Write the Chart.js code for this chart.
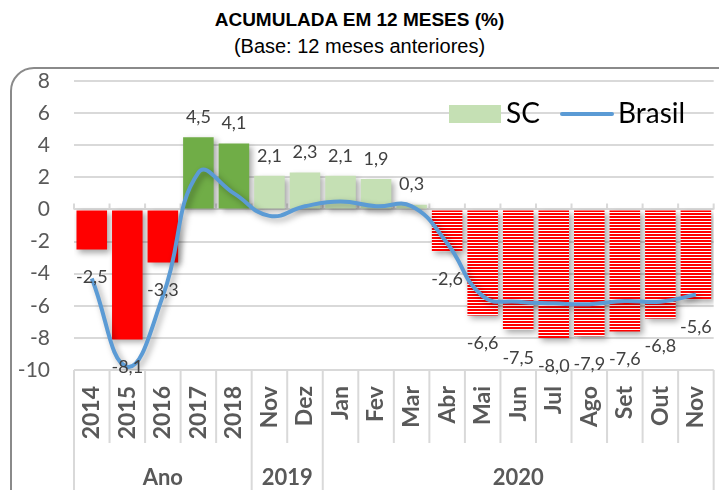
<!DOCTYPE html>
<html>
<head>
<meta charset="utf-8">
<script src="https://cdn.jsdelivr.net/npm/chart.js@4.4.0/dist/chart.umd.min.js"></script>
<style>
    html, body { margin: 0; padding: 0; background: #fff; overflow: hidden; }
    #page { position: relative; width: 719px; height: 490px; overflow: hidden; }
    .title { position: absolute; left: 0; width: 719px; text-align: center; color: #000; }
    #t1 { top: 9px; font: bold 19px "Liberation Sans Narrow", "Arial Narrow", sans-serif; }
    #t2 { top: 35px; font: 20px "Liberation Sans Narrow", "Arial Narrow", sans-serif; }
    #frame { position: absolute; left: 10px; top: 67px; width: 740px; height: 450px;
             border: 2px solid #8a8a8a; border-radius: 24px; box-sizing: border-box; }
    #chart { position: absolute; left: 0; top: 0; z-index: 1; }
    .legend { position: absolute; z-index: 2; font: 28px Lato, sans-serif; color: #000; }
</style>
</head>
<body>
<div id="page">
    <div class="title" id="t1">ACUMULADA EM 12 MESES (%)</div>
    <div class="title" id="t2">(Base: 12 meses anteriores)</div>
    <div id="frame"></div>
    <canvas id="chart" width="740" height="490" style="width:740px;height:490px"></canvas>
    <!-- legend -->
    <div class="legend" style="left:449px;top:105px;width:52px;height:18px;background:#c5e0b4"></div>
    <div class="legend" style="left:506px;top:95px;line-height:34px">SC</div>
    <div class="legend" style="left:560px;top:112px;width:54px;height:4px;border-radius:2px;background:#5b9bd5"></div>
    <div class="legend" style="left:618px;top:95px;line-height:34px">Brasil</div>
</div>
<script>
// --- data ---
const categories = ['2014', '2015', '2016', '2017', '2018', 'Nov', 'Dez', 'Jan', 'Fev', 'Mar',
                    'Abr', 'Mai', 'Jun', 'Jul', 'Ago', 'Set', 'Out', 'Nov'];
const groupLabels = ['Ano', '2019', '2020'];
const groupSizes = [5, 2, 11];
const scValues = [-2.5, -8.1, -3.3, 4.5, 4.1, 2.1, 2.3, 2.1, 1.9, 0.3,
                  -2.6, -6.6, -7.5, -8.0, -7.9, -7.6, -6.8, -5.6];
const brasilValues = [-4.3, -9.8, -5.4, 2.3, 1.0, -0.4, 0.2, 0.5, 0.2, 0.2,
                      -2.1, -5.4, -5.75, -5.85, -5.9, -5.7, -5.75, -5.3];
const yMin = -10, yMax = 8, yStep = 2;

const canvas = document.getElementById('chart');
const ctx = canvas.getContext('2d');

// red / white horizontal stripes for the 2020 months from Abr on
const makeStripes = () => {
    const pc = document.createElement('canvas');
    pc.width = 4; pc.height = 3;
    const p = pc.getContext('2d');
    p.fillStyle = '#ffffff'; p.fillRect(0, 0, 4, 3);
    p.fillStyle = '#ff0000'; p.fillRect(0, 0, 4, 2);
    return ctx.createPattern(pc, 'repeat');
};
const stripes = makeStripes();
const barColor = (i) => i < 3 ? '#ff0000' : i < 5 ? '#70ad47' : i < 10 ? '#c5e0b4' : stripes;

const fmt = (v) => v.toFixed(1).replace('.', ',');
const TICK_COLOR = '#595959';
const GRID_COLOR = '#d9d9d9';

// soft drop shadow under bars and line, like the original
const shadowPlugin = {
    id: 'shadow',
    beforeDatasetDraw(chart) {
        const c = chart.ctx;
        c.save();
        c.shadowColor = 'rgba(0,0,0,0.35)';
        c.shadowBlur = 6;
        c.shadowOffsetX = 3;
        c.shadowOffsetY = 3;
    },
    afterDatasetDraw(chart) {
        chart.ctx.restore();
    }
};

// value labels above / below each bar
const labelPlugin = {
    id: 'barLabels',
    afterDatasetsDraw(chart) {
        const c = chart.ctx;
        const meta = chart.getDatasetMeta(1);
        c.save();
        c.font = '18px Lato, sans-serif';
        c.fillStyle = '#404040';
        c.textAlign = 'center';
        c.textBaseline = 'middle';
        meta.data.forEach((bar, i) => {
            const v = scValues[i];
            c.fillText(fmt(v), bar.x, v >= 0 ? bar.y - 20 : bar.y + 28);
        });
        c.restore();
    }
};

// category boxes and group labels under the plot, small ticks on the zero line
const axisPlugin = {
    id: 'axisBoxes',
    beforeDatasetsDraw(chart) {
        const c = chart.ctx;
        const x = chart.scales.x;
        const y = chart.scales.y;
        const half = (x.getPixelForTick(1) - x.getPixelForTick(0)) / 2;
        const y0 = y.getPixelForValue(0);
        c.save();
        c.strokeStyle = GRID_COLOR;
        c.lineWidth = 2;
        c.beginPath();
        for (let i = 0; i <= categories.length; i++) {
            const bx = x.getPixelForTick(Math.min(i, categories.length - 1)) + (i === categories.length ? half : -half);
            c.moveTo(bx, y0 - 6); c.lineTo(bx, y0);
        }
        c.stroke();
        c.restore();
    },
    afterDraw(chart) {
        const c = chart.ctx;
        const x = chart.scales.x;
        const area = chart.chartArea;
        const half = (x.getPixelForTick(1) - x.getPixelForTick(0)) / 2;
        const edge = (i) => i < categories.length ? x.getPixelForTick(i) - half : x.getPixelForTick(categories.length - 1) + half;
        const groupStarts = [0];
        groupSizes.forEach((n, g) => groupStarts.push(groupStarts[g] + n));
        c.save();
        c.strokeStyle = GRID_COLOR;
        c.lineWidth = 2;
        c.beginPath();
        for (let i = 0; i <= categories.length; i++) {
            const bx = edge(i);
            const long = groupStarts.includes(i);
            c.moveTo(bx, area.bottom);
            c.lineTo(bx, long ? chart.height : area.bottom + 73);
        }
        c.stroke();
        c.font = 'bold 22px Lato, sans-serif';
        c.fillStyle = TICK_COLOR;
        c.textAlign = 'center';
        c.textBaseline = 'middle';
        groupLabels.forEach((lab, g) => {
            const cx = (edge(groupStarts[g]) + edge(groupStarts[g + 1])) / 2;
            c.fillText(lab, cx, area.bottom + 108);
        });
        c.restore();
    }
};

new Chart(ctx, {
    data: {
        labels: categories,
        datasets: [
            {
                type: 'line',
                label: 'Brasil',
                data: brasilValues,
                borderColor: '#5b9bd5',
                borderWidth: 4,
                tension: 0.45,
                pointRadius: 0,
                fill: false,
                order: 0
            },
            {
                type: 'bar',
                label: 'SC',
                data: scValues,
                backgroundColor: scValues.map((v, i) => barColor(i)),
                borderWidth: 0,
                categoryPercentage: 1,
                barPercentage: 0.86,
                order: 1
            }
        ]
    },
    options: {
        responsive: false,
        animation: false,
        devicePixelRatio: 1,
        layout: { padding: { top: 81, right: 18, left: 0, bottom: 0 } },
        plugins: {
            legend: { display: false },
            tooltip: { enabled: false }
        },
        scales: {
            x: {
                grid: { display: false, drawTicks: false },
                border: { display: false },
                ticks: {
                    autoSkip: false,
                    minRotation: 90,
                    maxRotation: 90,
                    padding: 16,
                    color: TICK_COLOR,
                    font: { family: 'Lato', size: 23, weight: 'bold' }
                },
                afterFit: (s) => { s.height = 120; }
            },
            y: {
                min: yMin,
                max: yMax,
                ticks: {
                    stepSize: yStep,
                    padding: 24,
                    color: TICK_COLOR,
                    font: { family: 'Lato', size: 21 }
                },
                grid: { color: GRID_COLOR, lineWidth: 2, drawTicks: false },
                border: { display: false },
                afterFit: (s) => { s.width = 74; }
            }
        }
    },
    plugins: [shadowPlugin, axisPlugin, labelPlugin]
});
</script>
</body>
</html>
